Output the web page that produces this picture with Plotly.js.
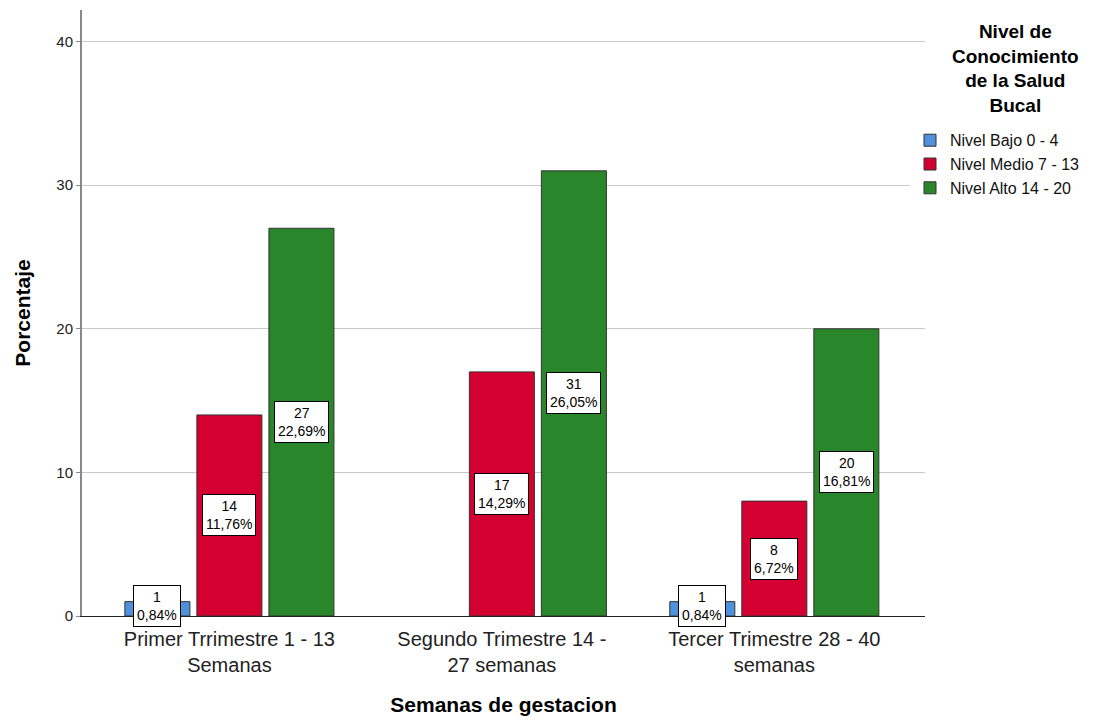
<!DOCTYPE html>
<html><head><meta charset="utf-8">
<script src="https://cdn.plot.ly/plotly-3.0.1.min.js"></script>
<style>html,body{margin:0;padding:0;background:#fff;}#chart{width:1108px;height:722px;}</style>
</head><body><div id="chart"></div>
<script>
const categories = ["Primer Trrimestre 1 - 13<br>Semanas", "Segundo Trimestre 14 -<br>27 semanas", "Tercer Trimestre 28 - 40<br>semanas"];
const seriesNames = ["Nivel Bajo 0 - 4", "Nivel Medio 7 - 13", "Nivel Alto 14 - 20"];
const bajo = [1, null, 1];
const medio = [14, 17, 8];
const alto = [27, 31, 20];
const bajoPct = ["0,84%", null, "0,84%"];
const medioPct = ["11,76%", "14,29%", "6,72%"];
const altoPct = ["22,69%", "26,05%", "16,81%"];
const yTicks = [0, 10, 20, 30, 40];
const legendTitle = "<b>Nivel de<br>Conocimiento<br>de la Salud<br>Bucal</b>";

const colors = ["#4f91dc", "#d50032", "#2a862a"];
const series = [bajo, medio, alto];
const pcts = [bajoPct, medioPct, altoPct];

const traces = series.map((vals, i) => ({
  type: "bar", name: seriesNames[i], x: [0, 1, 2], y: vals,
  marker: {color: colors[i], line: {color: "#333", width: 1}},
  hoverinfo: "none"
}));

const slot = 0.2642;
const annotations = [];
series.forEach((vals, i) => {
  vals.forEach((v, j) => {
    if (v === null) return;
    annotations.push({
      x: j + (i - 1) * slot, y: Math.max(v / 2, 0.7), xref: "x", yref: "y",
      text: v + "<br>" + pcts[i][j], showarrow: false,
      font: {family: "Liberation Sans, Arial", size: 14, color: "#000"},
      bgcolor: "#fff", bordercolor: "#000", borderwidth: 1, borderpad: 3
    });
  });
});
annotations.push({
  x: 1.107, y: 0.985, xref: "paper", yref: "paper", xanchor: "center", yanchor: "top",
  text: legendTitle, showarrow: false, align: "center",
  font: {family: "Liberation Sans, Arial", size: 19, color: "#000"}
});

const layout = {
  width: 1108, height: 722,
  margin: {l: 82, r: 183, t: 10, b: 106},
  paper_bgcolor: "#fff", plot_bgcolor: "#fff",
  barmode: "group", bargap: 0.207, bargroupgap: 0.097,
  font: {family: "Liberation Sans, Arial", color: "#000"},
  xaxis: {
    range: [-0.541, 2.553], tickmode: "array", tickvals: [0, 1, 2], ticktext: categories,
    tickfont: {size: 20, color: "#222"}, showgrid: false, zeroline: false,
    showline: true, linecolor: "#222", linewidth: 1, ticks: "", ticklabelstandoff: 5,
    title: {text: "<b>Semanas de gestacion</b>", font: {size: 21, color: "#000"}, standoff: 22}
  },
  yaxis: {
    range: [0, 42.2], tickmode: "array", tickvals: yTicks,
    tickfont: {size: 15, color: "#222"}, showgrid: true, gridcolor: "#c8c8c8", gridwidth: 1,
    zeroline: false, showline: true, linecolor: "#888", linewidth: 2, ticks: "outside", ticklen: 4, tickcolor: "#888",
    title: {text: "<b>Porcentaje</b>", font: {size: 21, color: "#000"}, standoff: 20}
  },
  legend: {
    x: (910 - 82) / 843, xanchor: "left", y: 0.813, yanchor: "top",
    font: {size: 16, color: "#111"}, traceorder: "normal", itemwidth: 30, tracegroupgap: 0
  },
  annotations: annotations,
  showlegend: true
};

Plotly.newPlot("chart", traces, layout, {displayModeBar: false, staticPlot: true});
</script>
</body></html>
